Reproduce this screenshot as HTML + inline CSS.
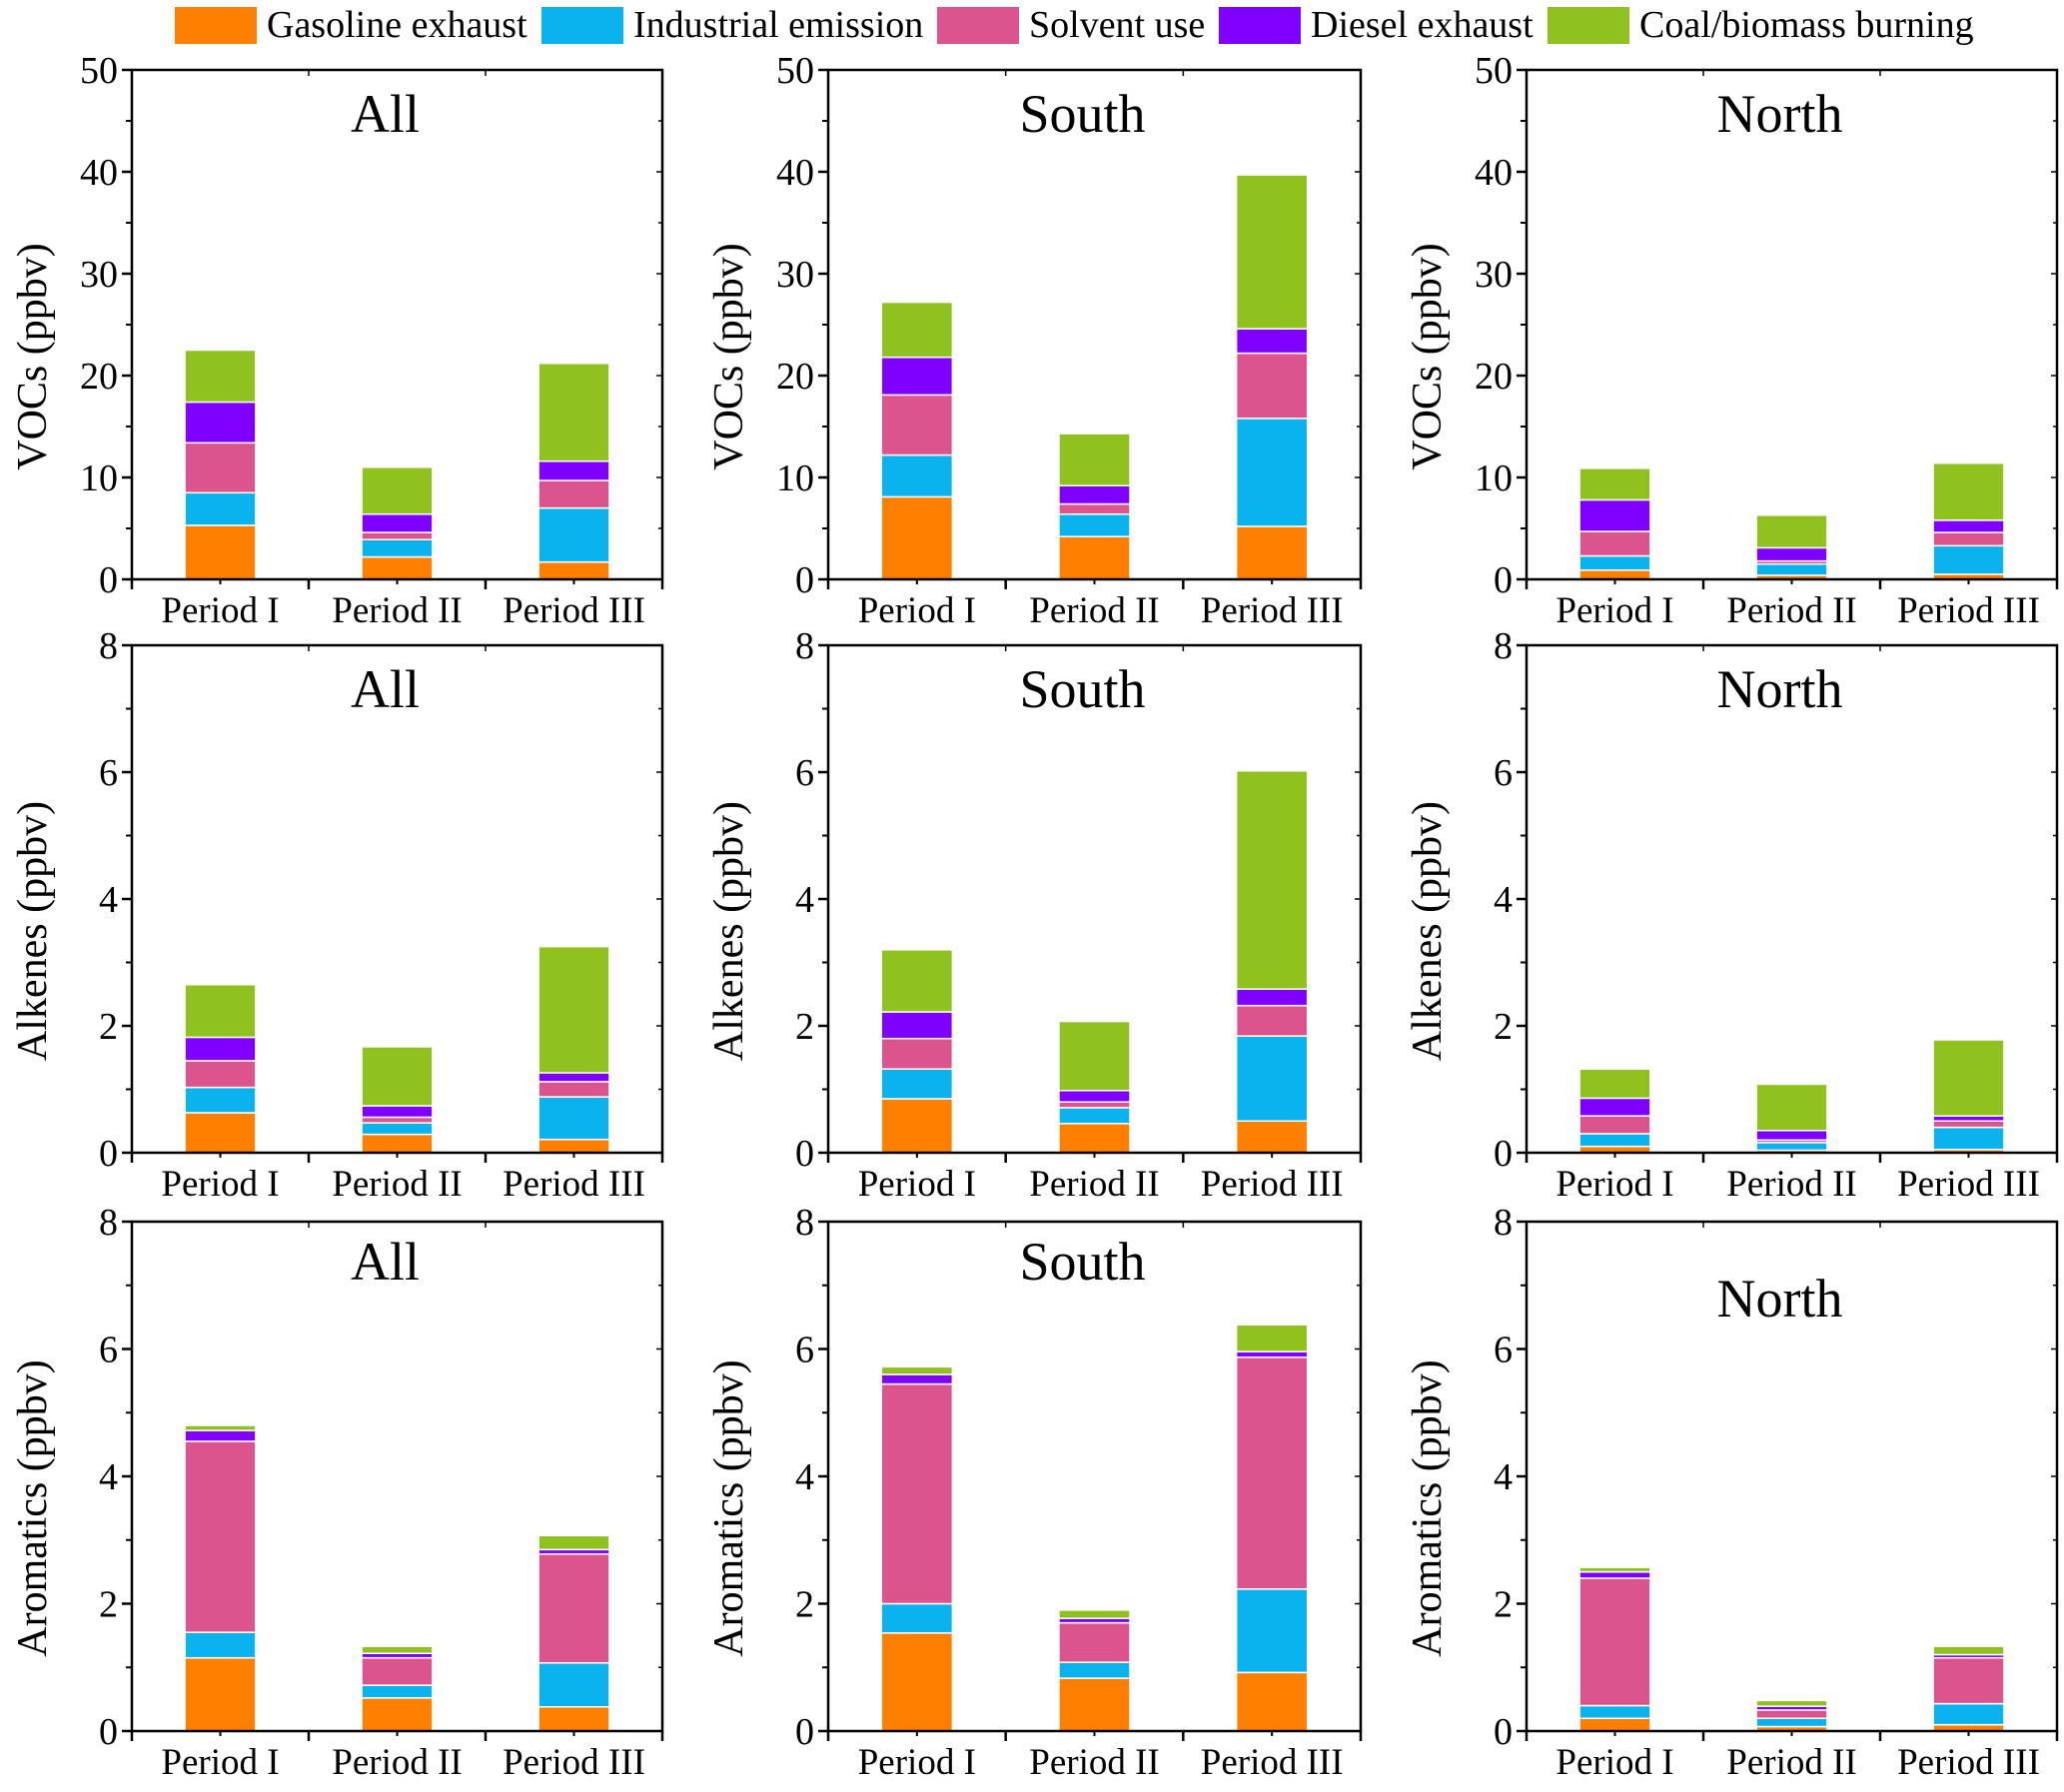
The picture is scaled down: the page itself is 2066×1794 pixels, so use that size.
<!DOCTYPE html>
<html><head><meta charset="utf-8">
<style>
html,body{margin:0;padding:0;background:#fff;}
svg{display:block;font-family:"Liberation Serif","DejaVu Serif",serif;}
</style></head>
<body>
<svg id="chart" width="2066" height="1794" viewBox="0 0 2066 1794" xmlns="http://www.w3.org/2000/svg">
<g id="legend"></g>
<g id="panels"></g>
</svg>
<script>
const categories = ["Period I","Period II","Period III"];
const sources = ["Gasoline exhaust","Industrial emission","Solvent use","Diesel exhaust","Coal/biomass burning"];
const colors = ["#FF8000","#0AB2EE","#DC548E","#8000FF","#90C21F"];
const regions = ["All","South","North"];
const rowTitles = ["VOCs (ppbv)","Alkenes (ppbv)","Aromatics (ppbv)"];
const rowMax = [50,8,8];
const rowTicks = [[0,10,20,30,40,50],[0,2,4,6,8],[0,2,4,6,8]];
// cumulative stack tops per source: [row][region][period][source]
const vocsAll   = [[5.3,8.5,13.4,17.4,22.5],[2.2,3.9,4.6,6.4,11.0],[1.7,7.0,9.7,11.6,21.2]];
const vocsSouth = [[8.1,12.2,18.1,21.8,27.2],[4.2,6.4,7.4,9.2,14.3],[5.2,15.8,22.2,24.6,39.7]];
const vocsNorth = [[0.9,2.3,4.7,7.8,10.9],[0.4,1.5,1.8,3.1,6.3],[0.5,3.3,4.6,5.8,11.4]];
const alkAll    = [[0.63,1.03,1.45,1.82,2.65],[0.29,0.47,0.56,0.74,1.67],[0.21,0.88,1.12,1.26,3.25]];
const alkSouth  = [[0.85,1.32,1.80,2.22,3.20],[0.46,0.71,0.80,0.98,2.07],[0.50,1.84,2.32,2.58,6.02]];
const alkNorth  = [[0.10,0.30,0.58,0.86,1.32],[0.04,0.16,0.20,0.35,1.08],[0.05,0.40,0.50,0.58,1.78]];
const aroAll    = [[1.15,1.55,4.55,4.72,4.80],[0.52,0.72,1.15,1.22,1.33],[0.38,1.07,2.78,2.85,3.07]];
const aroSouth  = [[1.54,2.00,5.45,5.60,5.72],[0.83,1.08,1.70,1.77,1.90],[0.92,2.23,5.87,5.96,6.38]];
const aroNorth  = [[0.20,0.40,2.40,2.50,2.57],[0.07,0.20,0.33,0.39,0.48],[0.10,0.43,1.15,1.20,1.33]];
const data = [[vocsAll,vocsSouth,vocsNorth],[alkAll,alkSouth,alkNorth],[aroAll,aroSouth,aroNorth]];

const NS="http://www.w3.org/2000/svg";
function mk(tag,attrs,parent){const e=document.createElementNS(NS,tag);for(const k in attrs)e.setAttribute(k,attrs[k]);parent.appendChild(e);return e;}
const colX=[[132,663],[829,1362],[1528,2059]];
const rowY=[[70,580],[646,1154],[1223,1733]];
const titleDy=[[44,44,44],[44,44,44],[40,40,77]];

const lg=document.getElementById('legend');
const lgX=[175,542,938,1220,1549];
sources.forEach((s,i)=>{
  const r=mk('rect',{x:lgX[i],y:7,width:82,height:37,fill:colors[i]},lg);
  
  
  const t=mk('text',{x:lgX[i]+92,y:37,'font-size':38,fill:'#000'},lg);
  t.textContent=s;
  
  
});

const pg=document.getElementById('panels');
for(let r=0;r<3;r++){for(let c=0;c<3;c++){
  const [x0,x1]=colX[c],[y0,y1]=rowY[r];
  const g=mk('g',{},pg);
  
  
  const yS=v=>y1-(v/rowMax[r])*(y1-y0);
  const band=(x1-x0)/3;
  const xC=i=>x0+band*(i+0.5);
  const bw=band*0.4;
  data[r][c].forEach((stack,i)=>{
    let prev=0;
    stack.forEach((top,k)=>{
      const rc=mk('rect',{x:xC(i)-bw/2,y:yS(top),width:bw,height:Math.max(0,yS(prev)-yS(top)),fill:colors[k],stroke:'#fff','stroke-width':1.5},g);
      
      
      prev=top;
    });
  });
  const fr=mk('rect',{x:x0,y:y0,width:x1-x0,height:y1-y0,fill:'none',stroke:'#000','stroke-width':2.5},g);
  
  
  const ticks=rowTicks[r], step=ticks[1]-ticks[0];
  ticks.forEach(v=>{
    mk('line',{x1:x0-10,x2:x0,y1:yS(v),y2:yS(v),stroke:'#000','stroke-width':2.5},g);
    mk('line',{x1:x1-6,x2:x1,y1:yS(v),y2:yS(v),stroke:'#000','stroke-width':1.5},g);
    const t=mk('text',{x:x0-14,y:yS(v)+13,'font-size':38,'text-anchor':'end'},g);
    t.textContent=v;
    
    
    if(v<rowMax[r]){const m=yS(v+step/2);
      mk('line',{x1:x0-6,x2:x0,y1:m,y2:m,stroke:'#000','stroke-width':2},g);
      mk('line',{x1:x1-4,x2:x1,y1:m,y2:m,stroke:'#000','stroke-width':1.5},g);}
  });
  for(let i=0;i<=3;i++){const xx=x0+band*i;
    mk('line',{x1:xx,x2:xx,y1:y1,y2:y1+10,stroke:'#000','stroke-width':2.5},g);
    mk('line',{x1:xx,x2:xx,y1:y0,y2:y0+6,stroke:'#000','stroke-width':1.5},g);}
  categories.forEach((cat,i)=>{
    mk('line',{x1:xC(i),x2:xC(i),y1:y1,y2:y1+5,stroke:'#000','stroke-width':2},g);
    const t=mk('text',{x:xC(i),y:y1+43,'font-size':37,'text-anchor':'middle'},g);
    t.textContent=cat;
    
    
  });
  const tt=mk('text',{x:(x0+x1)/2-12,y:y0+titleDy[r][c]+18,'font-size':54,'text-anchor':'middle'},g);
  tt.textContent=regions[c];
  
  
  const yx=x0-86, yy=(y0+y1)/2+32;
  const yt=mk('text',{x:yx,y:yy,'font-size':42,'text-anchor':'middle',transform:`rotate(-90 ${yx} ${yy})`},g);
  yt.textContent=rowTitles[r];
  
  
}}
</script>
</body></html>
